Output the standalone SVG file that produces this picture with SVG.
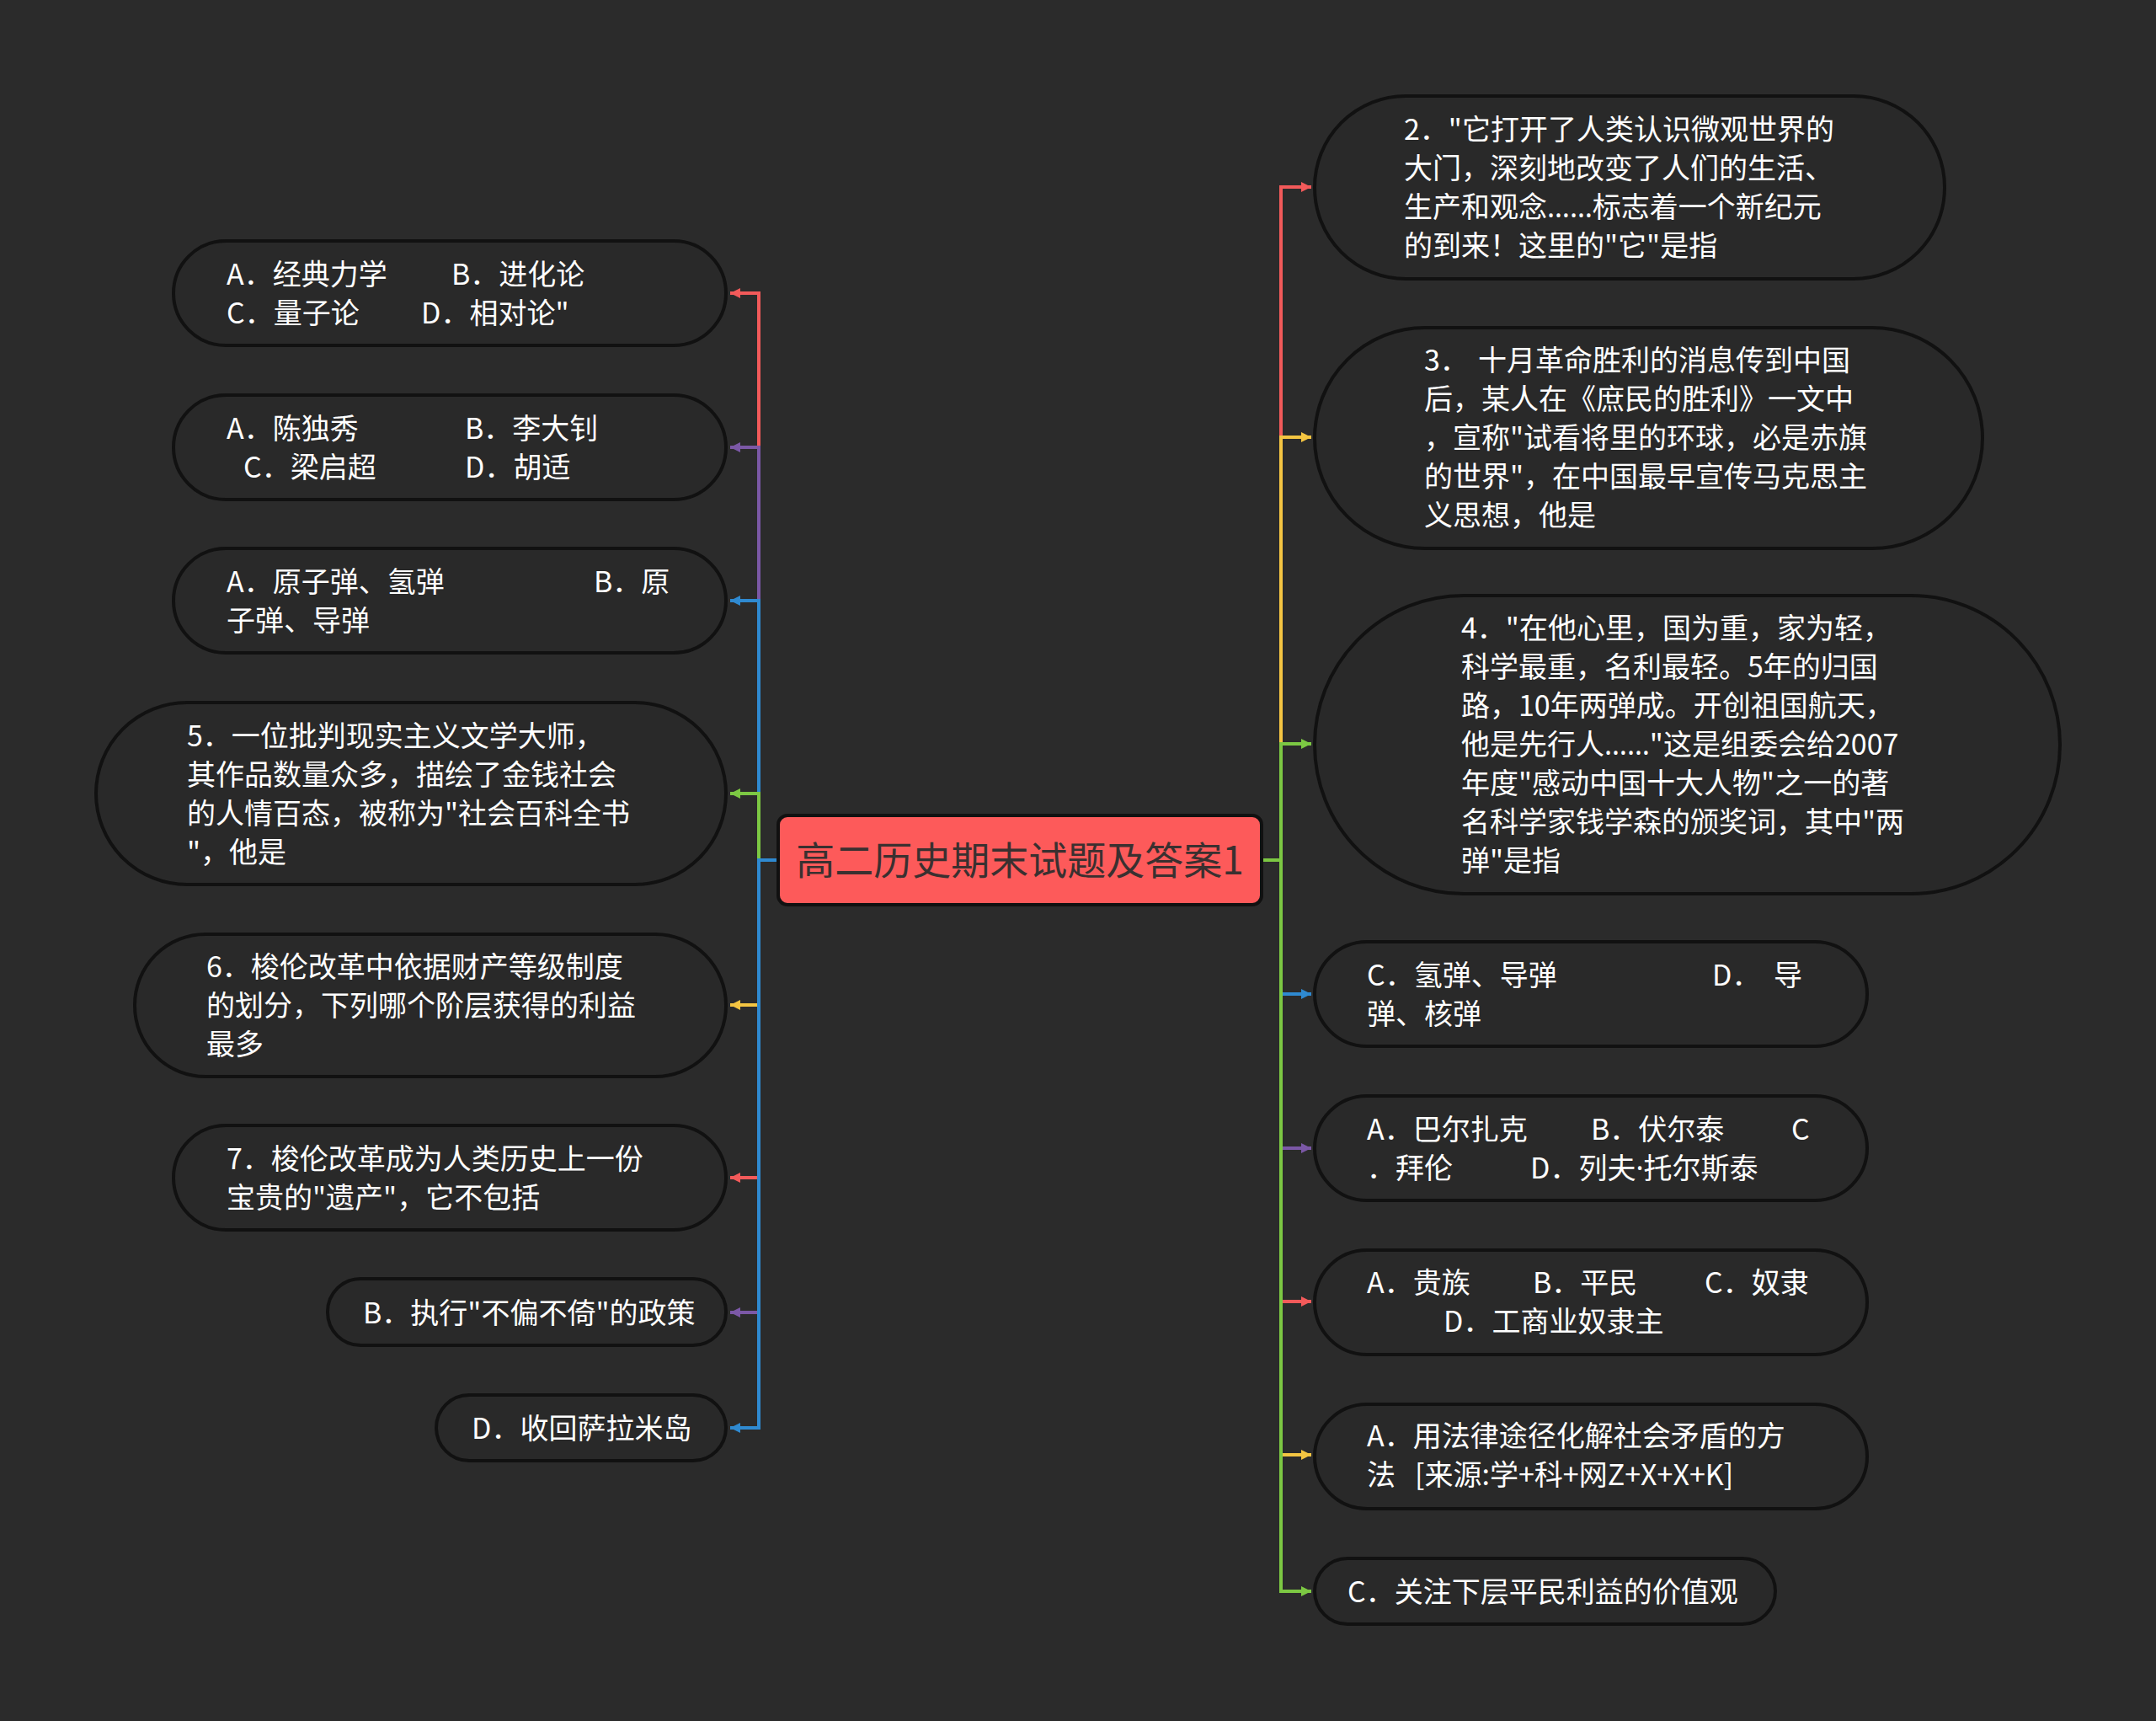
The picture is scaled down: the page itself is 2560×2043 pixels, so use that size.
<svg xmlns="http://www.w3.org/2000/svg" width="2560" height="2043" viewBox="0 0 2560 2043">
<style>
.bg{fill:#2b2b2b}
.node{fill:#292929;stroke:#111111;stroke-width:4}
.t{font-family:"Noto Sans CJK SC","Noto Sans",sans-serif;font-size:34px;fill:#ffffff}
.lat{font-family:"Noto Sans","Liberation Sans",sans-serif}
.ct{font-family:"Noto Sans CJK SC","Noto Sans",sans-serif;font-size:46px;fill:#3a3030}
.c{fill:none;stroke-width:4;stroke-linejoin:miter}
.red{stroke:#f25a5a}.pur{stroke:#7b58a6}.blu{stroke:#2f8ad1}.grn{stroke:#7cc843}.yel{stroke:#f4c542}
</style>
<defs>
<marker id="ar" viewBox="0 0 12 12" refX="12" refY="6" markerWidth="12" markerHeight="13" markerUnits="userSpaceOnUse" orient="auto"><path d="M0,0 L12,6 L0,12 z" fill="#f25a5a"/></marker>
<marker id="ap" viewBox="0 0 12 12" refX="12" refY="6" markerWidth="12" markerHeight="13" markerUnits="userSpaceOnUse" orient="auto"><path d="M0,0 L12,6 L0,12 z" fill="#7b58a6"/></marker>
<marker id="ab" viewBox="0 0 12 12" refX="12" refY="6" markerWidth="12" markerHeight="13" markerUnits="userSpaceOnUse" orient="auto"><path d="M0,0 L12,6 L0,12 z" fill="#2f8ad1"/></marker>
<marker id="ag" viewBox="0 0 12 12" refX="12" refY="6" markerWidth="12" markerHeight="13" markerUnits="userSpaceOnUse" orient="auto"><path d="M0,0 L12,6 L0,12 z" fill="#7cc843"/></marker>
<marker id="ay" viewBox="0 0 12 12" refX="12" refY="6" markerWidth="12" markerHeight="13" markerUnits="userSpaceOnUse" orient="auto"><path d="M0,0 L12,6 L0,12 z" fill="#f4c542"/></marker>
</defs>
<rect class="bg" x="0" y="0" width="2560" height="2043"/>

<g id="connectors">
<path class="c red" d="M924,1021 H901 V348 H867" marker-end="url(#ar)"/>
<path class="c pur" d="M924,1021 H901 V531 H867" marker-end="url(#ap)"/>
<path class="c blu" d="M924,1021 H901 V713 H867" marker-end="url(#ab)"/>
<path class="c grn" d="M924,1021 H901 V942 H867" marker-end="url(#ag)"/>
<path class="c yel" d="M924,1021 H901 V1193 H867" marker-end="url(#ay)"/>
<path class="c red" d="M924,1021 H901 V1398 H867" marker-end="url(#ar)"/>
<path class="c pur" d="M924,1021 H901 V1558 H867" marker-end="url(#ap)"/>
<path class="c blu" d="M924,1021 H901 V1695 H867" marker-end="url(#ab)"/>
<path class="c red" d="M1498,1021 H1521 V222 H1557" marker-end="url(#ar)"/>
<path class="c yel" d="M1498,1021 H1521 V519 H1557" marker-end="url(#ay)"/>
<path class="c grn" d="M1498,1021 H1521 V883 H1557" marker-end="url(#ag)"/>
<path class="c blu" d="M1498,1021 H1521 V1180 H1557" marker-end="url(#ab)"/>
<path class="c pur" d="M1498,1021 H1521 V1363 H1557" marker-end="url(#ap)"/>
<path class="c red" d="M1498,1021 H1521 V1545 H1557" marker-end="url(#ar)"/>
<path class="c yel" d="M1498,1021 H1521 V1727 H1557" marker-end="url(#ay)"/>
<path class="c grn" d="M1498,1021 H1521 V1889 H1557" marker-end="url(#ag)"/>
</g>

<g id="root">
<rect x="924" y="968" width="574" height="106" rx="11" fill="#fd5a5a" stroke="#111111" stroke-width="4"/>
<text class="ct" x="1211" y="1038" text-anchor="middle">高二历史期末试题及答案1</text>
</g>

<g id="l1">
<rect class="node" x="206" y="286" width="656" height="124" rx="62"/>
<text class="t" y="338"><tspan x="269">A．经典力学</tspan><tspan x="536">B．进化论</tspan></text>
<text class="t" y="384"><tspan x="269">C．量子论</tspan><tspan x="500">D．相对论"</tspan></text>
</g>
<g id="l2">
<rect class="node" x="206" y="469" width="656" height="124" rx="62"/>
<text class="t" y="521"><tspan x="269">A．陈独秀</tspan><tspan x="552">B．李大钊</tspan></text>
<text class="t" y="567"><tspan x="289">C．梁启超</tspan><tspan x="552">D．胡适</tspan></text>
</g>
<g id="l3">
<rect class="node" x="206" y="651" width="656" height="124" rx="62"/>
<text class="t" y="703"><tspan x="269">A．原子弹、氢弹</tspan><tspan x="705">B．原</tspan></text>
<text class="t" x="269" y="749">子弹、导弹</text>
</g>
<g id="l4">
<rect class="node" x="114" y="834" width="748" height="216" rx="108"/>
<text class="t" x="222" y="886">5．一位批判现实主义文学大师，</text>
<text class="t" x="222" y="932">其作品数量众多，描绘了金钱社会</text>
<text class="t" x="222" y="978">的人情百态，被称为"社会百科全书</text>
<text class="t" x="222" y="1024">"，他是</text>
</g>
<g id="l5">
<rect class="node" x="160" y="1109" width="702" height="169" rx="84"/>
<text class="t" x="245" y="1160">6．梭伦改革中依据财产等级制度</text>
<text class="t" x="245" y="1206">的划分，下列哪个阶层获得的利益</text>
<text class="t" x="245" y="1252">最多</text>
</g>
<g id="l6">
<rect class="node" x="206" y="1336" width="656" height="124" rx="62"/>
<text class="t" x="269" y="1388">7．梭伦改革成为人类历史上一份</text>
<text class="t" x="269" y="1434">宝贵的"遗产"，它不包括</text>
</g>
<g id="l7">
<rect class="node" x="389" y="1518" width="473" height="79" rx="39"/>
<text class="t" x="431" y="1571">B．执行"不偏不倚"的政策</text>
</g>
<g id="l8">
<rect class="node" x="518" y="1656" width="344" height="78" rx="39"/>
<text class="t" x="560" y="1708">D．收回萨拉米岛</text>
</g>

<g id="r1">
<rect class="node" x="1561" y="114" width="748" height="217" rx="108"/>
<text class="t" x="1667" y="166">2．"它打开了人类认识微观世界的</text>
<text class="t" x="1667" y="212">大门，深刻地改变了人们的生活、</text>
<text class="t" x="1667" y="258">生产和观念<tspan class="lat">……</tspan>标志着一个新纪元</text>
<text class="t" x="1667" y="304">的到来！这里的"它"是指</text>
</g>
<g id="r2">
<rect class="node" x="1561" y="389" width="793" height="262" rx="131"/>
<text class="t" y="440"><tspan x="1691">3．</tspan><tspan x="1755">十月革命胜利的消息传到中国</tspan></text>
<text class="t" x="1691" y="486">后，某人在《庶民的胜利》一文中</text>
<text class="t" x="1691" y="532">，宣称"试看将里的环球，必是赤旗</text>
<text class="t" x="1691" y="578">的世界"，在中国最早宣传马克思主</text>
<text class="t" x="1691" y="624">义思想，他是</text>
</g>
<g id="r3">
<rect class="node" x="1561" y="707" width="885" height="354" rx="177"/>
<text class="t" x="1735" y="758">4．"在他心里，国为重，家为轻，</text>
<text class="t" x="1735" y="804">科学最重，名利最轻。5年的归国</text>
<text class="t" x="1735" y="850">路，10年两弹成。开创祖国航天，</text>
<text class="t" x="1735" y="896">他是先行人<tspan class="lat">……</tspan>"这是组委会给2007</text>
<text class="t" x="1735" y="942">年度"感动中国十大人物"之一的著</text>
<text class="t" x="1735" y="988">名科学家钱学森的颁奖词，其中"两</text>
<text class="t" x="1735" y="1034">弹"是指</text>
</g>
<g id="r4">
<rect class="node" x="1561" y="1118" width="656" height="124" rx="62"/>
<text class="t" y="1170"><tspan x="1623">C．氢弹、导弹</tspan><tspan x="2033">D．</tspan><tspan x="2106">导</tspan></text>
<text class="t" x="1623" y="1216">弹、核弹</text>
</g>
<g id="r5">
<rect class="node" x="1561" y="1301" width="656" height="124" rx="62"/>
<text class="t" y="1353"><tspan x="1623">A．巴尔扎克</tspan><tspan x="1889">B．伏尔泰</tspan><tspan x="2127">C</tspan></text>
<text class="t" y="1399"><tspan x="1623">．拜伦</tspan><tspan x="1817">D．列夫</tspan><tspan class="lat">·</tspan><tspan>托尔斯泰</tspan></text>
</g>
<g id="r6">
<rect class="node" x="1561" y="1484" width="656" height="124" rx="62"/>
<text class="t" y="1535"><tspan x="1623">A．贵族</tspan><tspan x="1820">B．平民</tspan><tspan x="2024">C．奴隶</tspan></text>
<text class="t" x="1714" y="1581">D．工商业奴隶主</text>
</g>
<g id="r7">
<rect class="node" x="1561" y="1667" width="656" height="124" rx="62"/>
<text class="t" x="1623" y="1717">A．用法律途径化解社会矛盾的方</text>
<text class="t" y="1763"><tspan x="1623">法</tspan><tspan x="1680">[来源:学+科+网Z+X+X+K]</tspan></text>
</g>
<g id="r8">
<rect class="node" x="1561" y="1850" width="547" height="78" rx="39"/>
<text class="t" x="1600" y="1902">C．关注下层平民利益的价值观</text>
</g>
</svg>
